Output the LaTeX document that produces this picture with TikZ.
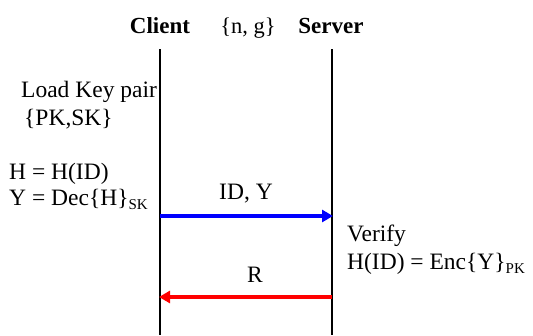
\documentclass[tikz,border=0pt]{standalone}
\usepackage{fontspec}
\setmainfont{Liberation Serif}
\usetikzlibrary{arrows.meta}
\newcommand{\lowsub}[1]{\raisebox{-0.4ex}{\fontsize{15}{15}\selectfont #1}}
\tikzset{
  txt/.style={inner sep=0pt, anchor=base west, font=\fontsize{23.5}{26}\selectfont},
  title/.style={inner sep=0pt, anchor=base, font=\fontsize{23}{26}\selectfont\bfseries},
  lifeline/.style={line width=2.8pt, black},
  msgblue/.style={line width=4pt, blue, -{Triangle[length=11pt,width=12pt]}},
  msgred/.style={line width=4pt, red, -{Triangle[length=11pt,width=12pt]}}
}
\begin{document}
\begin{tikzpicture}[x=1pt,y=-1pt]
\useasboundingbox (0,0) rectangle (533,335);
% titles
\node[title] (client) at (160,33) {Client};
\node[title, font=\fontsize{22.5}{26}\selectfont] (ng) at (248,33) {\{n, g\}};
\node[title] (server) at (331,33) {Server};
% lifelines
\coordinate (ctop) at (160,49);
\coordinate (cbot) at (160,335);
\coordinate (stop) at (332,49);
\coordinate (sbot) at (332,335);
\draw[lifeline] (ctop) -- (cbot);
\draw[lifeline] (stop) -- (sbot);
% left texts
\node[txt] (load) at (21,97) {Load Key pair};
\node[txt] (pksk) at (24,125) {\{PK,SK\}};
\node[txt] (hh) at (9,179) {H = H(ID)};
\node[txt] (ydec) at (9,205) {Y = Dec\{H\}\lowsub{SK}};
% messages
\coordinate (m1a) at (160,216);
\coordinate (m1b) at (333,216);
\draw[msgblue] (m1a) -- (m1b);
\node[txt, anchor=base] (idy) at (246,199) {ID, Y};
\coordinate (m2a) at (332,297);
\coordinate (m2b) at (159,297);
\draw[msgred] (m2a) -- (m2b);
\node[txt, anchor=base] (r) at (255,282) {R};
% right texts
\node[txt] (verify) at (347,241) {Verify};
\node[txt] (henc) at (347,269) {H(ID) = Enc\{Y\}\lowsub{PK}};
\end{tikzpicture}
\end{document}
